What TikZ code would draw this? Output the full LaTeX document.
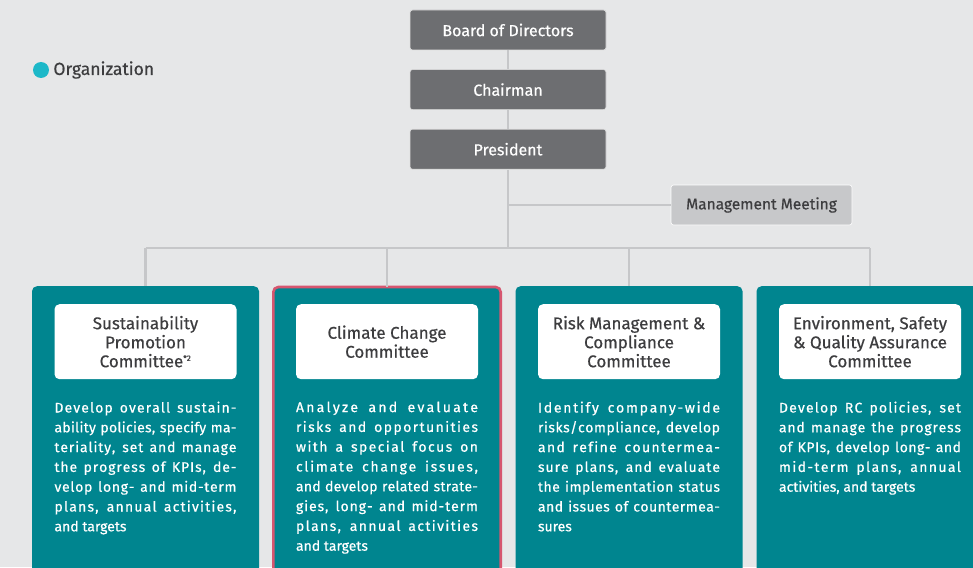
\documentclass[tikz,border=0pt]{standalone}
\usepackage{fontspec}
\setmainfont{Fira Sans}[FakeBold=0.5]
\usepackage{xcolor}
\usetikzlibrary{positioning,calc}
\definecolor{pagebg}{HTML}{E6E7E8}
\definecolor{boxgray}{HTML}{6D6E71}
\definecolor{mmgray}{HTML}{C7C8CA}
\definecolor{linegray}{HTML}{C6C7C9}
\definecolor{darktext}{HTML}{3D3D3F}
\definecolor{panelteal}{HTML}{00858F}
\definecolor{focusred}{HTML}{D6566F}
\definecolor{dotcyan}{HTML}{1DB8C8}
% full-width line: stretch word and letter spacing
\XeTeXinterchartoks 0 0 = {\hskip 0pt plus 0.4pt\relax}
\newcommand{\fl}[1]{\makebox[182pt][s]{\XeTeXinterchartokenstate=1
  \spaceskip=\fontdimen2\font plus 1.2pt\relax#1}}

\begin{document}
\begin{tikzpicture}[x=1pt,y=-1pt,node distance=19pt,
  every node/.style={font=\fontsize{16}{19}\selectfont},
  topbox/.style={draw=white!75!gray,line width=0.6pt,rounded corners=2.5pt,fill=boxgray,text=white,minimum width=196pt,minimum height=40pt,inner sep=0pt},
  mmbox/.style={draw=white,line width=0.6pt,rounded corners=2.5pt,fill=mmgray,text=darktext,minimum width=181pt,minimum height=40pt,inner sep=0pt,font=\fontsize{15.5}{19}\selectfont},
  panel/.style={fill=panelteal,rounded corners=5pt,minimum width=227pt,minimum height=320pt,inner sep=0pt,anchor=north},
  titlebox/.style={fill=white,rounded corners=5pt,minimum width=182pt,minimum height=75pt,inner sep=0pt,align=center,text=darktext,anchor=north,font=\fontsize{17}{19}\selectfont},
  desc/.style={text=white,text width=182pt,inner sep=0pt,align=justify,anchor=north west,font=\fontsize{14}{19.8}\selectfont},
  conn/.style={draw=linegray,line width=2.5pt}]
\useasboundingbox (0,0) rectangle (973,567);
\clip (0,0) rectangle (973,567);
\fill[pagebg] (0,0) rectangle (973,567);

% legend
\node[circle,fill=dotcyan,minimum size=16pt,inner sep=0pt] (dot) at (41,70) {};
\node[right=4pt of dot,text=darktext,inner sep=0pt,font=\fontsize{17.5}{19}\selectfont] (legend) {Organization};

% top of the hierarchy
\node[topbox] (bod) at (508,30) {Board of Directors};
\node[topbox,below=of bod] (chair) {Chairman};
\node[topbox,below=of chair] (pres) {President};
\node[mmbox] (mm) at (761.5,205) {Management Meeting};

% committees
\node[panel] (p1) at (145.5,286) {};
\node[panel] (p2) at (387,287) {};
\node[panel] (p3) at (629,286) {};
\node[panel] (p4) at (870,286) {};
\draw[focusred,line width=2.6pt,rounded corners=5pt] (p2.south west) |- (p2.north east) -- (p2.south east);

\node[titlebox] (t1) at ([yshift=-18pt]p1.north) {Sustainability\\Promotion\\Committee\textsuperscript{\fontsize{8}{8}\selectfont *2}};
\node[titlebox] (t2) at ([yshift=-17pt]p2.north) {Climate Change\\Committee};
\node[titlebox] (t3) at ([yshift=-18pt]p3.north) {Risk Management \&\\Compliance\\Committee};
\node[titlebox] (t4) at ([yshift=-18pt]p4.north) {Environment, Safety\\\& Quality Assurance\\Committee};

\node[desc] (d1) at ([yshift=-22pt]t1.south west) {\fl{Develop overall sustain-}\\\fl{ability policies, specify ma-}\\\fl{teriality, set and manage}\\\fl{the progress of KPIs, de-}\\\fl{velop long- and mid-term}\\\fl{plans, annual activities,}\\and targets};
\node[desc] (d2) at ([yshift=-22pt]t2.south west) {\fl{Analyze and evaluate}\\\fl{risks and opportunities}\\\fl{with a special focus on}\\\fl{climate change issues,}\\\fl{and develop related strate-}\\\fl{gies, long- and mid-term}\\\fl{plans, annual activities}\\and targets};
\node[desc] (d3) at ([yshift=-22pt]t3.south west) {\fl{Identify company-wide}\\\fl{risks/compliance, develop}\\\fl{and refine countermea-}\\\fl{sure plans, and evaluate}\\\fl{the implementation status}\\\fl{and issues of countermea-}\\sures};
\node[desc] (d4) at ([yshift=-22pt]t4.south west) {\fl{Develop RC policies, set}\\\fl{and manage the progress}\\\fl{of KPIs, develop long- and}\\\fl{mid-term plans, annual}\\activities, and targets};

% connectors
\coordinate (bus) at (0,248);
\draw[conn] (bod) -- (chair);
\draw[conn] (chair) -- (pres);
\draw[conn] (pres.south) -- (pres.south |- bus);
\draw[conn] (pres.south |- mm.west) -- (mm.west);
\draw[conn] (p1.north |- bus) -- (p4.north |- bus);
\foreach \p in {p1,p2,p3,p4}
  \draw[conn] (\p.north |- bus) -- (\p.north);
\end{tikzpicture}
\end{document}
